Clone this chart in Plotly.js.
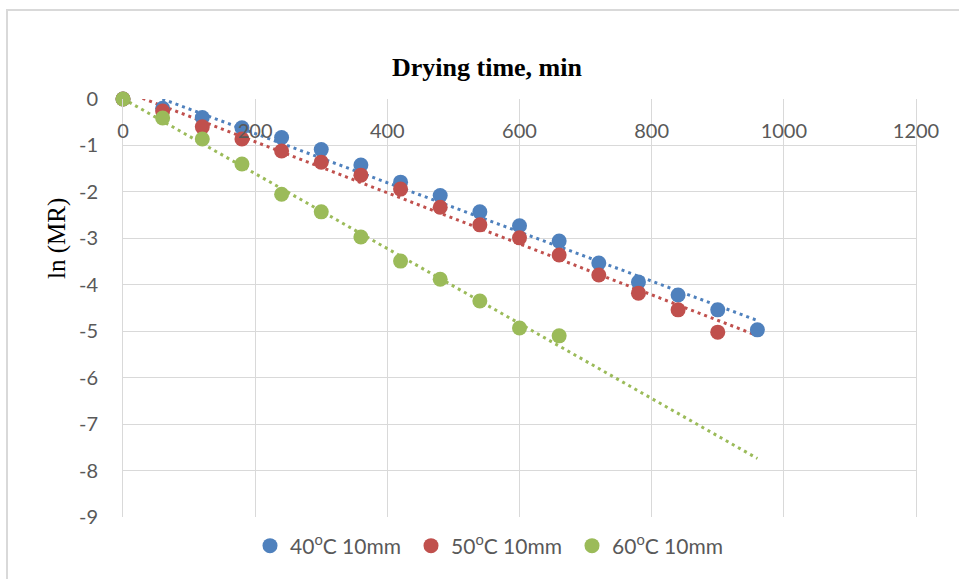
<!DOCTYPE html>
<html>
<head>
<meta charset="utf-8">
<script src="https://cdn.plot.ly/plotly-3.0.1.min.js"></script>
<style>
html,body{margin:0;padding:0;background:#fff;}
#wrap{position:relative;width:959px;height:579px;overflow:hidden;}
#frame{position:absolute;left:6px;top:9px;width:1000px;height:1000px;border-left:2px solid #d9d9d9;border-top:2px solid #d9d9d9;pointer-events:none;}
#chart{position:absolute;left:0;top:0;width:959px;height:579px;}
</style>
</head>
<body>
<div id="wrap"><div id="chart"></div><div id="frame"></div></div>
<script>
// Drying time (min)
const time40 = [0,60,120,180,240,300,360,420,480,540,600,660,720,780,840,900,960];
const time50 = [0,60,120,180,240,300,360,420,480,540,600,660,720,780,840,900];
const time60 = [0,60,120,180,240,300,360,420,480,540,600,660];
// ln(MR)
const lnMR40 = [0,-0.2,-0.4,-0.62,-0.83,-1.09,-1.42,-1.79,-2.08,-2.43,-2.73,-3.06,-3.53,-3.94,-4.22,-4.54,-4.97];
const lnMR50 = [0,-0.26,-0.6,-0.86,-1.12,-1.36,-1.64,-1.94,-2.33,-2.71,-2.99,-3.36,-3.79,-4.18,-4.54,-5.02];
const lnMR60 = [0,-0.41,-0.86,-1.40,-2.05,-2.43,-2.97,-3.49,-3.88,-4.35,-4.93,-5.10];
const seriesNames = ['40<sup>o</sup>C 10mm','50<sup>o</sup>C 10mm','60<sup>o</sup>C 10mm'];
const colors = ['#4F81BD','#C0504D','#9BBB59'];
const trendEnd = 960;
// Axis ticks
const xTickVals = [0,200,400,600,800,1000,1200];
const xTickText = ['0','200','400','600','800','1000','1200'];
const yTickVals = [0,-1,-2,-3,-4,-5,-6,-7,-8,-9];
const yTickText = ['0','-1','-2','-3','-4','-5','-6','-7','-8','-9'];

function fit(xs, ys){
  const n = xs.length;
  let sx=0, sy=0, sxx=0, sxy=0;
  for(let i=0;i<n;i++){sx+=xs[i];sy+=ys[i];sxx+=xs[i]*xs[i];sxy+=xs[i]*ys[i];}
  const b = (n*sxy - sx*sy)/(n*sxx - sx*sx);
  const a = (sy - b*sx)/n;
  return {a,b};
}

const sets = [[time40,lnMR40],[time50,lnMR50],[time60,lnMR60]];
const traces = [];
// invisible trace that activates the tick-label axis
traces.push({x:[0], y:[0], xaxis:'x2', mode:'markers', marker:{opacity:0}, showlegend:false, hoverinfo:'skip'});
sets.forEach((s,i)=>{
  const f = fit(s[0], s[1]);
  const xs = [0, trendEnd];
  traces.push({
    x: xs, y: xs.map(v=>f.a+f.b*v), mode:'lines', showlegend:false, hoverinfo:'skip',
    line:{color:colors[i], width:3, dash:'3px,4px'}
  });
});
sets.forEach((s,i)=>{
  traces.push({
    x: s[0], y: s[1], mode:'markers', name: seriesNames[i], cliponaxis:false,
    marker:{color:colors[i], size:15}
  });
});

const tickFont = {family:'Lato, "Liberation Sans", sans-serif', size:20, color:'#595959'};
const legendFont = {family:'Lato, "Liberation Sans", sans-serif', size:21, color:'#595959'};
const layout = {
  width:959, height:579,
  margin:{l:123, r:43, t:99, b:62},
  paper_bgcolor:'rgba(0,0,0,0)', plot_bgcolor:'#fff',
  title:{text:'<b>Drying time, min</b>', font:{family:'"Liberation Serif", "Times New Roman", serif', size:26, color:'#000'},
    x:487/959, xanchor:'center', xref:'container', y:1-67/579, yanchor:'middle', yref:'container'},
  xaxis:{range:[0,1200], tickvals:xTickVals, showticklabels:false,
    showgrid:true, gridcolor:'#d9d9d9', gridwidth:1, zeroline:false, showline:false, ticks:''},
  xaxis2:{range:[0,1200], overlaying:'x', anchor:'free', position:1, side:'bottom',
    tickvals:xTickVals, ticktext:xTickText, showgrid:false, zeroline:false, showline:false, ticks:'',
    tickfont:tickFont, ticklabelstandoff:18},
  yaxis:{range:[-9,0], tickvals:yTickVals, ticktext:yTickText, showgrid:true, gridcolor:'#d9d9d9', gridwidth:1, zeroline:false,
    showline:true, linecolor:'#d9d9d9', linewidth:1, mirror:true, tickfont:tickFont, ticks:'', ticklabelstandoff:20},
  showlegend:true,
  legend:{orientation:'h', x:250/959, xanchor:'left', xref:'container', y:1-546/579, yanchor:'middle', yref:'container',
    font:legendFont, itemclick:false, entrywidth:116, entrywidthmode:'pixels'},
  annotations:[{text:'ln (MR)', xref:'paper', yref:'paper', x:(57-123)/793, y:(517-239)/418, textangle:-90,
    showarrow:false, xanchor:'center', yanchor:'middle', font:{family:'"Liberation Serif", "Times New Roman", serif', size:25, color:'#000'}}]
};
Plotly.newPlot('chart', traces, layout, {displayModeBar:false, staticPlot:true});
</script>
</body>
</html>
